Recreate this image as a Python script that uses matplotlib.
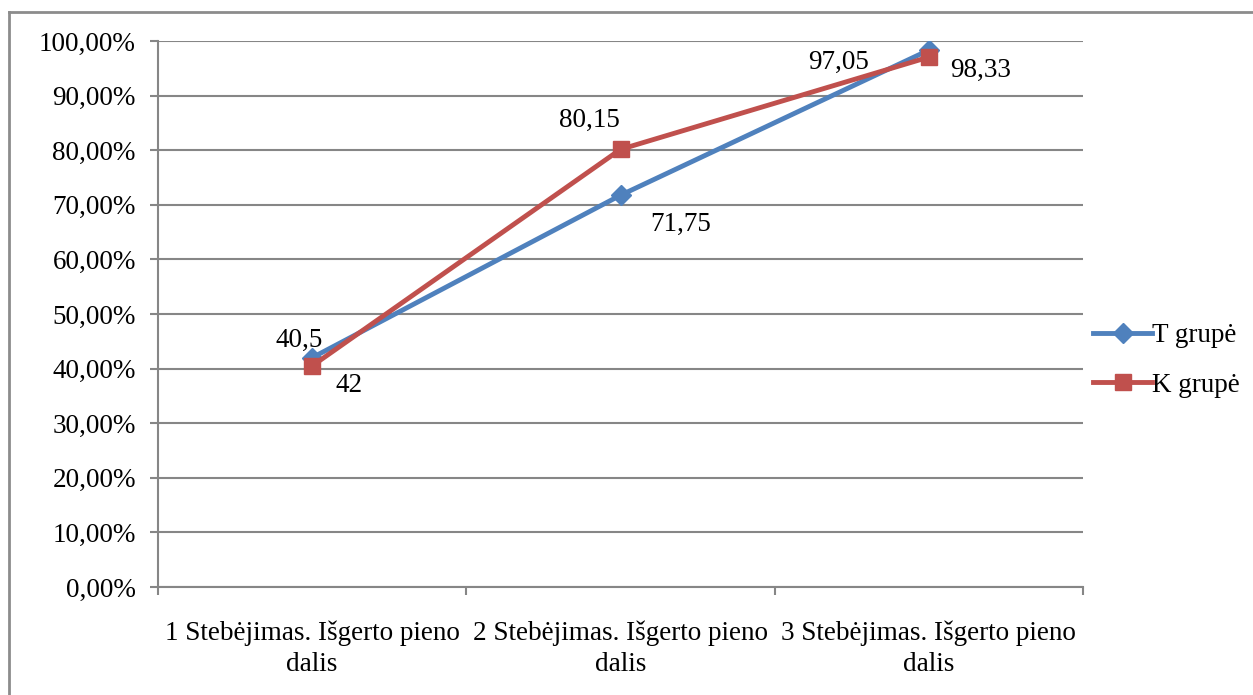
import numpy as np
import matplotlib.pyplot as plt
from matplotlib.lines import Line2D

# Data
categories = ['1 Stebėjimas. Išgerto pieno\ndalis',
              '2 Stebėjimas. Išgerto pieno\ndalis',
              '3 Stebėjimas. Išgerto pieno\ndalis']
t_values = [42, 71.75, 98.33]
k_values = [40.5, 80.15, 97.05]
t_labels = ['42', '71,75', '98,33']
k_labels = ['40,5', '80,15', '97,05']
yticks = np.arange(0, 101, 10)

plt.rcParams['font.family'] = ['Liberation Serif', 'DejaVu Serif']

blue = '#4F81BD'
red = '#C0504D'
grid_c = '#868686'

fig = plt.figure(figsize=(12.53, 6.95), dpi=100)
W, H = 1253, 695
ax = fig.add_axes([158 / W, 1 - 587 / H, (1083 - 158) / W, (587 - 41) / H])

x = np.arange(len(categories))
ax.plot(x, t_values, color=blue, lw=3.5, marker='D', ms=10, mfc=blue, mec=blue,
        label='T grupė', zorder=3)
ax.plot(x, k_values, color=red, lw=3.5, marker='s', ms=12, mfc=red, mec=red,
        label='K grupė', zorder=4)

# data labels (offsets in pixels, as in the original)
t_off = [(37, -28), (60, -29), (52, -20)]
k_off = [(-13, 25), (-31, 29), (-90, -5)]
for i in range(len(x)):
    ax.annotate(t_labels[i], (x[i], t_values[i]), xytext=t_off[i],
                textcoords='offset pixels', ha='center', va='center', fontsize=19.5)
    ax.annotate(k_labels[i], (x[i], k_values[i]), xytext=k_off[i],
                textcoords='offset pixels', ha='center', va='center', fontsize=19.5)

ax.set_xlim(-0.5, 2.5)
ax.set_ylim(0, 100)
ax.set_yticks(yticks)
ax.set_yticklabels([f'{v},00%' for v in yticks], fontsize=19.5)
ax.yaxis.grid(True, color=grid_c, lw=1.5)
ax.set_axisbelow(True)

ax.set_xticks(x)
ax.set_xticklabels(categories, fontsize=19.5, linespacing=1.3)
ax.set_xticks([-0.5, 0.5, 1.5, 2.5], minor=True)
ax.tick_params(axis='x', which='major', length=0, pad=24)
ax.tick_params(axis='x', which='minor', length=6, width=1.5, color=grid_c)
ax.tick_params(axis='y', length=6, width=1.5, color=grid_c, pad=10)

for s in ['top', 'right']:
    ax.spines[s].set_visible(False)
for s in ['left', 'bottom']:
    ax.spines[s].set_color(grid_c)
    ax.spines[s].set_linewidth(1.5)

ax.legend(loc='center left', bbox_to_anchor=(0.993, 0.415), frameon=False,
          fontsize=19.5, handlelength=2.2, handletextpad=0.0, labelspacing=0.9,
          borderaxespad=0.2)

# outer chart border (top and left visible)
fig.add_artist(Line2D([9 / W, 1], [1 - 12 / H, 1 - 12 / H], color='#8c8c8c', lw=2,
                      transform=fig.transFigure))
fig.add_artist(Line2D([9 / W, 9 / W], [0, 1 - 12 / H], color='#8c8c8c', lw=2,
                      transform=fig.transFigure))

fig.savefig('out.png', dpi=100)
